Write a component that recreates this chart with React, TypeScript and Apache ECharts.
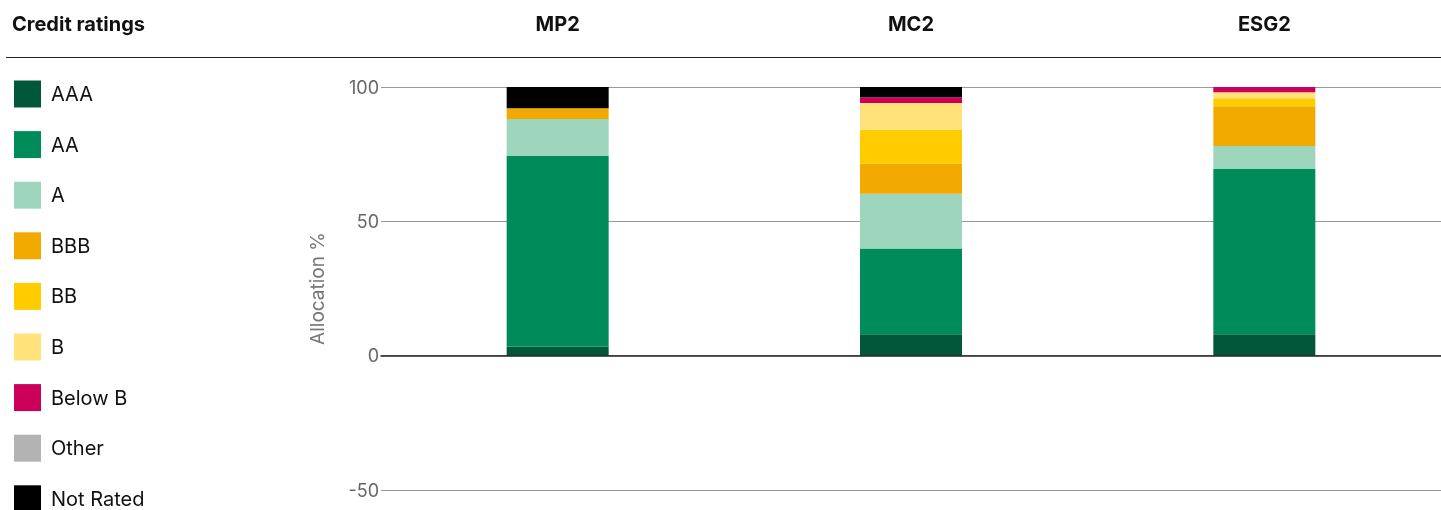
import React, { useEffect, useRef } from "react";
import * as echarts from "echarts";

const categories = ["MP2", "MC2", "ESG2"];
const ratings = ["AAA", "AA", "A", "BBB", "BB", "B", "Below B", "Other", "Not Rated"];
const colors = ["#02573b", "#008c5a", "#9dd6bd", "#f2a900", "#ffcc00", "#ffe27a", "#cc0058", "#b3b3b3", "#000000"];
const aaa = [3.3, 8.0, 8.0];
const aa = [71.0, 31.9, 61.5];
const a = [13.8, 20.4, 8.5];
const bbb = [4.0, 11.1, 14.8];
const bb = [0, 12.7, 3.0];
const b = [0, 9.9, 2.2];
const belowB = [0, 2.2, 2.0];
const other = [0, 0, 0];
const notRated = [7.9, 3.8, 0];
const yTicks = { min: -50, max: 100, interval: 50 };

const seriesValues = [aaa, aa, a, bbb, bb, b, belowB, other, notRated];

export default function App() {
  const ref = useRef<HTMLDivElement>(null);
  useEffect(() => {
    if (!ref.current) return;
    const chart = echarts.init(ref.current, undefined, { renderer: "svg" });
    const font = "Inter, 'Noto Sans', sans-serif";
    const legendBase = {
      orient: "vertical",
      left: 14,
      padding: 0,
      itemWidth: 27,
      itemHeight: 27,
      itemGap: 23.6,
      icon: "rect",
      selectedMode: false,
      textStyle: { fontFamily: font, fontSize: 20, color: "#111", padding: [0, 0, 0, 5] },
    };
    chart.setOption({
      animation: false,
      textStyle: { fontFamily: font },
      title: {
        text: "Credit ratings",
        left: 12,
        top: 14,
        padding: 0,
        textStyle: { fontFamily: font, fontSize: 20, fontWeight: "bold", color: "#111" },
      },
      legend: [
        { ...legendBase, top: 80.5, data: ratings.slice(0, 8) },
        { ...legendBase, top: 80.5 + 8 * 50.6, data: ratings.slice(8) },
      ],
      graphic: [
        {
          type: "line",
          shape: { x1: 6, y1: 57.5, x2: 1441, y2: 57.5 },
          style: { stroke: "#222", lineWidth: 1 },
        },
      ],
      grid: { left: 381, right: 0, top: 87, bottom: 20 },
      xAxis: [
        {
          type: "category",
          data: categories,
          axisLine: { onZero: true, lineStyle: { color: "#222", width: 1.5 } },
          axisTick: { show: false },
          axisLabel: { show: false },
          z: 5,
        },
        {
          type: "category",
          data: categories,
          position: "top",
          offset: 47,
          axisLine: { show: false },
          axisTick: { show: false },
          axisLabel: {
            margin: 6,
            fontFamily: font,
            fontSize: 20,
            fontWeight: "bold",
            color: "#111",
          },
        },
      ],
      yAxis: {
        type: "value",
        min: yTicks.min,
        max: yTicks.max,
        interval: yTicks.interval,
        name: "Allocation %",
        nameLocation: "middle",
        nameGap: 54,
        nameTextStyle: { fontFamily: font, fontSize: 19, color: "#777" },
        axisLine: { show: false },
        axisTick: { show: false },
        axisLabel: { margin: 2, fontFamily: font, fontSize: 18, color: "#666" },
        splitLine: { lineStyle: { color: "#999", width: 1 } },
      },
      series: ratings.map((name, i) => ({
        name,
        type: "bar",
        stack: "total",
        barWidth: 102,
        data: seriesValues[i],
        itemStyle: { color: colors[i] },
      })),
    });
    return () => chart.dispose();
  }, []);
  return <div ref={ref} style={{ position: "fixed", left: 0, top: 0, width: 1441, height: 510 }} />;
}
